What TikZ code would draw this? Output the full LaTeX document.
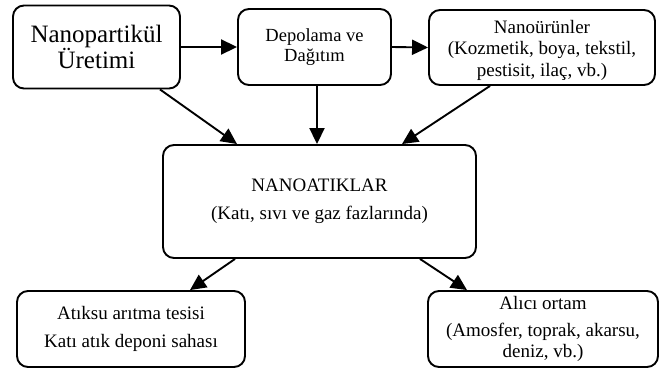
\documentclass[tikz,border=0pt]{standalone}
\usepackage{fontspec}
\setmainfont{Liberation Serif}
\usetikzlibrary{arrows.meta}
\begin{document}
\begin{tikzpicture}[x=1pt,y=-1pt,
  box/.style={draw,line width=1.9pt,rounded corners=11pt,align=center,inner sep=0pt},
  arr/.style={line width=1.9pt,-{Triangle[length=16pt,width=15pt]}},
  small/.style={font=\fontsize{19}{21.5}\selectfont}]
\useasboundingbox (0,0) rectangle (662,370);
\node[box,minimum width=167pt,minimum height=83pt,font=\fontsize{25}{25}\selectfont] (n1) at (96.5,47) {Nanopartikül\\Üretimi};
\node[box,minimum width=153pt,minimum height=76pt,font=\fontsize{18.5}{20}\selectfont] (n2) at (314.5,47) {Depolama ve\\Dağıtım};
\node[box,minimum width=226pt,minimum height=75pt,small] (n3) at (542,47.5) {};
\node[small,align=center] (n3text) at (542,50) {Nanoürünler\\(Kozmetik, boya, tekstil,\\pestisit, ilaç, vb.)};
\node[box,minimum width=313pt,minimum height=113pt,small] (n4) at (319.5,201.5) {NANOATIKLAR\\[7pt](Katı, sıvı ve gaz fazlarında)};
\node[box,minimum width=228pt,minimum height=76pt,small] (n5) at (131,329) {Atıksu arıtma tesisi\\[6pt]Katı atık deponi sahası};
\node[box,minimum width=230pt,minimum height=76pt,small] (n6) at (543,329) {Alıcı ortam\\[5pt](Amosfer, toprak, akarsu,\\deniz, vb.)};
\draw[arr] (n1.east) -- (n2.west);
\draw[arr] (n2.east) -- (n3.west);
\draw[arr] ([xshift=63.5pt]n1.south) -- ([xshift=-82.5pt]n4.north);
\draw[arr] ([xshift=2.5pt]n2.south) -- ([xshift=-2.5pt]n4.north);
\draw[arr] ([xshift=-52pt]n3.south) -- ([xshift=82.5pt]n4.north);
\draw[arr] ([xshift=-84.5pt]n4.south) -- ([xshift=59pt]n5.north);
\draw[arr] ([xshift=100.5pt]n4.south) -- ([xshift=-76pt]n6.north);
\end{tikzpicture}
\end{document}
